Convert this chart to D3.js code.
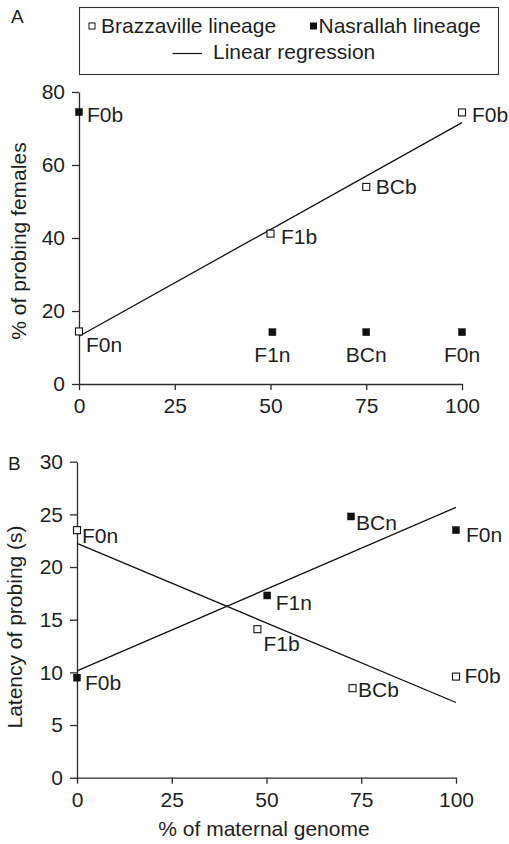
<!DOCTYPE html>
<html>
<head>
<meta charset="utf-8">
<script src="https://cdn.jsdelivr.net/npm/d3@7"></script>
<style>
  html, body { margin: 0; padding: 0; background: #fff; }
  svg { display: block; }
  text { font-family: "Liberation Sans", Arial, Helvetica, sans-serif; fill: #1e1e1e; }
</style>
</head>
<body>
<svg id="chart" width="509" height="844"></svg>
<script>
// ---- data ----------------------------------------------------------------
// Panel A: % of probing females vs % of maternal genome
const aBrazzavilleX = [0, 50, 75, 100];
const aBrazzavilleY = [14.4, 41.2, 54, 74.4];
const aBrazzavilleLabels = ["F0n", "F1b", "BCb", "F0b"];

const aNasrallahX = [0, 50.5, 75, 100];
const aNasrallahY = [74.5, 14.2, 14.2, 14.2];
const aNasrallahLabels = ["F0b", "F1n", "BCn", "F0n"];

// Panel B: latency of probing (s) vs % of maternal genome
const bBrazzavilleX = [0, 47.6, 72.7, 100];
const bBrazzavilleY = [23.5, 14.1, 8.5, 9.6];
const bBrazzavilleLabels = ["F0n", "F1b", "BCb", "F0b"];

const bNasrallahX = [0, 50.2, 72.3, 100];
const bNasrallahY = [9.5, 17.3, 24.8, 23.5];
const bNasrallahLabels = ["F0b", "F1n", "BCn", "F0n"];

const xTicks = [0, 25, 50, 75, 100];
const aYTicks = [0, 20, 40, 60, 80];
const bYTicks = [0, 5, 10, 15, 20, 25, 30];

const legendNames = ["Brazzaville lineage", "Nasrallah lineage", "Linear regression"];
const xTitle = "% of maternal genome";
const aYTitle = "% of probing females";
const bYTitle = "Latency of probing (s)";

// ---- label placement (offsets from each point, in px) ---------------------
const aBrazzavilleNudge = [[7, 21], [10.5, 10], [9.5, 7], [10, 9.5]];
const aNasrallahNudge   = [[8, 9.5], [0, 30, "middle"], [0, 30, "middle"], [0, 30, "middle"]];
const bBrazzavilleNudge = [[5, 13], [6, 21.5], [5.5, 8.5], [8.5, 6.5]];
const bNasrallahNudge   = [[8, 12], [8.5, 14.5], [5, 13.5], [10, 12]];

// ---- helpers -------------------------------------------------------------
const FONT = 21;
const INK = "#1e1e1e";
const svg = d3.select("#chart");

function leastSquares(xs, ys) {
  const mx = d3.mean(xs), my = d3.mean(ys);
  let sxy = 0, sxx = 0;
  xs.forEach((x, i) => { sxy += (x - mx) * (ys[i] - my); sxx += (x - mx) * (x - mx); });
  const slope = sxy / sxx;
  return { slope, intercept: my - slope * mx };
}

function zip(xs, ys, labels, nudges) {
  return xs.map((x, i) => ({ x, y: ys[i], label: labels[i], nudge: nudges[i] }));
}

function drawPanel(cfg) {
  const x = d3.scaleLinear().domain([0, 100]).range(cfg.xRange);
  const y = d3.scaleLinear().domain(cfg.yDomain).range(cfg.yRange);
  const g = svg.append("g");

  // axes
  const xAxis = d3.axisBottom(x).tickValues(xTicks).tickSize(6).tickPadding(8).tickSizeOuter(0);
  const yAxis = d3.axisLeft(y).tickValues(cfg.yTicks).tickSize(7).tickPadding(7).tickSizeOuter(0);
  const gx = g.append("g").attr("transform", `translate(0,${cfg.yRange[0]})`).call(xAxis);
  const gy = g.append("g").attr("transform", `translate(${cfg.xRange[0]},0)`).call(yAxis);
  [gx, gy].forEach(a => {
    a.selectAll("path, line").attr("stroke", "#2a2a2a").attr("stroke-width", 1.3);
    a.selectAll("text").attr("font-size", FONT).attr("fill", INK)
      .attr("font-family", "'Liberation Sans', Arial, sans-serif");
  });

  // regression lines
  cfg.fits.forEach(s => {
    const f = leastSquares(s.xs, s.ys);
    g.append("line")
      .attr("x1", x(0)).attr("y1", y(f.intercept))
      .attr("x2", x(100)).attr("y2", y(f.intercept + f.slope * 100))
      .attr("stroke", "#111").attr("stroke-width", 1.3);
  });

  // points and their labels
  cfg.series.forEach(s => {
    const pts = g.append("g").selectAll("g").data(s.data).join("g")
      .attr("transform", d => `translate(${x(d.x)},${y(d.y)})`);
    pts.append("rect")
      .attr("x", -3.5).attr("y", -3.5).attr("width", 7).attr("height", 7)
      .attr("fill", s.filled ? "#111" : "#fff")
      .attr("stroke", "#111").attr("stroke-width", s.filled ? 0.5 : 1.1);
    pts.append("text")
      .attr("x", d => d.nudge[0]).attr("y", d => d.nudge[1])
      .attr("text-anchor", d => d.nudge[2] || "start")
      .attr("font-size", FONT)
      .text(d => d.label);
  });

  // y axis title
  g.append("text")
    .attr("transform", `translate(${cfg.yTitlePos[0]},${cfg.yTitlePos[1]}) rotate(-90)`)
    .attr("text-anchor", "middle").attr("font-size", FONT)
    .text(cfg.yTitle);

  // panel letter
  g.append("text").attr("x", cfg.letterPos[0]).attr("y", cfg.letterPos[1])
    .attr("font-size", 19).text(cfg.letter);

  return { x, y };
}

// ---- legend --------------------------------------------------------------
const legend = svg.append("g");
legend.append("rect").attr("x", 79.5).attr("y", 7.5).attr("width", 419).attr("height", 67)
  .attr("fill", "#fff").attr("stroke", "#333").attr("stroke-width", 1.1);
legend.append("rect").attr("x", 89).attr("y", 23).attr("width", 6).attr("height", 6)
  .attr("fill", "#fff").attr("stroke", "#111").attr("stroke-width", 1);
legend.append("text").attr("x", 101).attr("y", 33).attr("font-size", FONT).text(legendNames[0]);
legend.append("rect").attr("x", 310).attr("y", 22.5).attr("width", 7).attr("height", 7)
  .attr("fill", "#111");
legend.append("text").attr("x", 318.5).attr("y", 33).attr("font-size", FONT).text(legendNames[1]);
legend.append("line").attr("x1", 172.5).attr("x2", 202).attr("y1", 53.5).attr("y2", 53.5)
  .attr("stroke", "#111").attr("stroke-width", 1.2);
legend.append("text").attr("x", 213).attr("y", 58.5).attr("font-size", FONT).text(legendNames[2]);

// ---- panel A -------------------------------------------------------------
drawPanel({
  letter: "A", letterPos: [11, 22.5],
  xRange: [79, 462], yRange: [384, 92], yDomain: [0, 80], yTicks: aYTicks,
  yTitle: aYTitle, yTitlePos: [25.5, 241],
  fits: [{ xs: aBrazzavilleX, ys: aBrazzavilleY }],
  series: [
    { filled: false, data: zip(aBrazzavilleX, aBrazzavilleY, aBrazzavilleLabels, aBrazzavilleNudge) },
    { filled: true,  data: zip(aNasrallahX, aNasrallahY, aNasrallahLabels, aNasrallahNudge) }
  ]
});

// ---- panel B -------------------------------------------------------------
drawPanel({
  letter: "B", letterPos: [8, 470],
  xRange: [77, 456], yRange: [777.7, 461.7], yDomain: [0, 30], yTicks: bYTicks,
  yTitle: bYTitle, yTitlePos: [22, 627],
  fits: [{ xs: bBrazzavilleX, ys: bBrazzavilleY }, { xs: bNasrallahX, ys: bNasrallahY }],
  series: [
    { filled: false, data: zip(bBrazzavilleX, bBrazzavilleY, bBrazzavilleLabels, bBrazzavilleNudge) },
    { filled: true,  data: zip(bNasrallahX, bNasrallahY, bNasrallahLabels, bNasrallahNudge) }
  ]
});

// shared x axis title under panel B
svg.append("text").attr("x", 264).attr("y", 836).attr("text-anchor", "middle")
  .attr("font-size", FONT).text(xTitle);
</script>
</body>
</html>
